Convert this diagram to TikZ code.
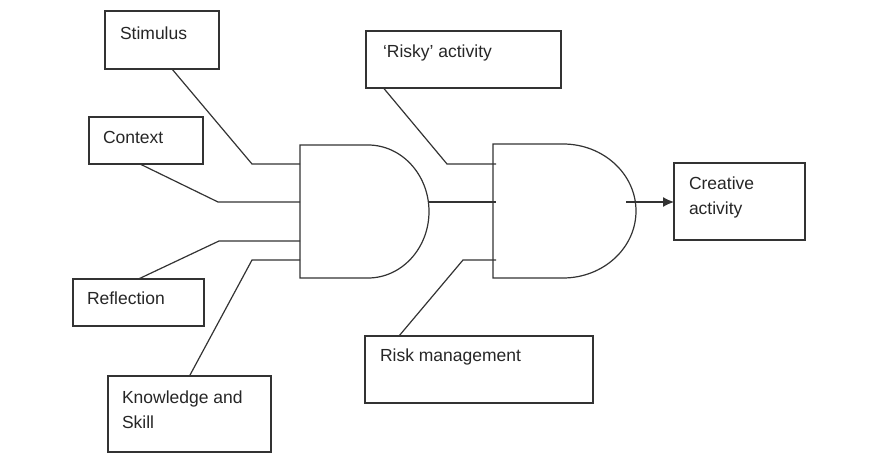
\documentclass[tikz,border=0pt]{standalone}
\usepackage{fontspec}
\setmainfont{Liberation Sans}
\usetikzlibrary{arrows.meta,positioning}

\begin{document}
\begin{tikzpicture}[x=1pt,y=-1pt,every node/.style = {inner sep=0pt, outer sep=0pt},box/.style = {draw=black!80, line width=1.3pt, anchor=north west},lbl/.style = {anchor=west, align=left, text=black!85, font=\fontsize{17.5}{25}\selectfont},wire/.style = {draw=black!80, line width=1.2pt},gate/.style = {anchor=north west}]
\useasboundingbox (0,0) rectangle (871,454);
\node[box, minimum width=114pt, minimum height=58pt] (stim) at (105,11) {};
\node[box, minimum width=114pt, minimum height=47pt] (cont) at (89,117) {};
\node[box, minimum width=131pt, minimum height=47pt] (refl) at (73,279) {};
\node[box, minimum width=163pt, minimum height=76pt] (know) at (108,376) {};
\node[box, minimum width=195pt, minimum height=57pt] (risky) at (366,31) {};
\node[box, minimum width=228pt, minimum height=67pt] (riskm) at (365,336) {};
\node[box, minimum width=131pt, minimum height=77pt] (crea) at (674,163) {};
  \node[lbl] (stimt)  at ([xshift=15pt,yshift=-22pt]stim.north west) {Stimulus};
  \node[lbl] (contt)  at ([xshift=14pt,yshift=-20pt]cont.north west) {Context};
  \node[lbl] (reflt)  at ([xshift=14pt,yshift=-19pt]refl.north west) {Reflection};
  \node[lbl] (knowt)  at ([xshift=14pt,yshift=-34pt]know.north west) {Knowledge and\\Skill};
  \node[lbl] (riskyt) at ([xshift=17pt,yshift=-22pt]risky.north west) {`Risky' activity};
  \node[lbl] (riskmt) at ([xshift=15pt,yshift=-21pt]riskm.north west) {Risk management};
  \node[lbl] (creat)  at ([xshift=15pt,yshift=-34pt]crea.north west) {Creative\\activity};
\node[gate, minimum width=129pt, minimum height=133pt] (g1) at (300,145) {};
\node[gate, minimum width=143pt, minimum height=134pt] (g2) at (493,144) {};
\draw[wire] (g1.north west) -- ++(68,0) arc[start angle=90, end angle=-90, x radius=61pt, y radius=66.5pt] -- (g1.south west) -- cycle;
\draw[wire] (g2.north west) -- ++(70,0) arc[start angle=90, end angle=-90, x radius=73pt, y radius=67pt] -- (g2.south west) -- cycle;
\coordinate (g1a) at ([yshift=-19pt]g1.north west);
\coordinate (g1b) at ([yshift=-57pt]g1.north west);
\coordinate (g1c) at ([yshift=-96pt]g1.north west);
\coordinate (g1d) at ([yshift=-115pt]g1.north west);
\coordinate (g1out) at ([xshift=128pt,yshift=-57pt]g1.north west);
\coordinate (g2a) at ([xshift=3pt,yshift=-20pt]g2.north west);
\coordinate (g2b) at ([xshift=3pt,yshift=-58pt]g2.north west);
\coordinate (g2c) at ([xshift=3pt,yshift=-116pt]g2.north west);
\coordinate (g2out) at ([xshift=133pt,yshift=-58pt]g2.north west);
\draw[wire] ([xshift=10pt]stim.south) -- ([xshift=-48pt]g1a) -- (g1a);
\draw[wire] ([xshift=-6pt]cont.south) -- ([xshift=-82pt]g1b) -- (g1b);
\draw[wire] (refl.north) -- ([xshift=-81pt]g1c) -- (g1c);
\draw[wire] (know.north) -- ([xshift=-48pt]g1d) -- (g1d);
\draw[wire] ([xshift=-80pt]risky.south) -- ([xshift=-49pt]g2a) -- (g2a);
\draw[wire] ([xshift=-80pt]riskm.north) -- ([xshift=-33pt]g2c) -- (g2c);
\draw[wire] (g1out) -- (g2b);
\draw[wire, -{Latex[length=11pt, width=10pt]}] (g2out) -- (crea.west |- g2out);
\end{tikzpicture}
\end{document}
